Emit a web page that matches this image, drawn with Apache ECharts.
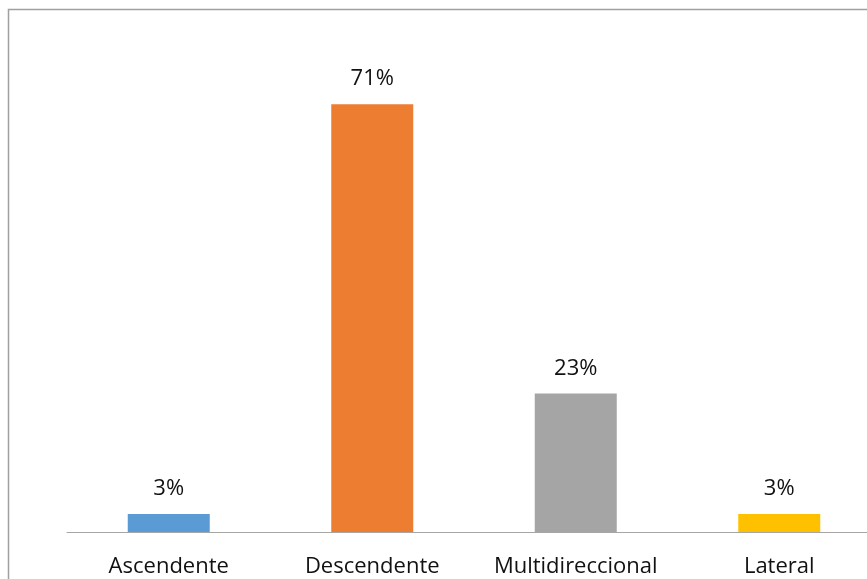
<!DOCTYPE html>
<html>
<head>
<meta charset="utf-8">
<script src="https://cdn.jsdelivr.net/npm/echarts@6/dist/echarts.min.js"></script>
<style>
  html, body { margin: 0; padding: 0; background: #fff; overflow: hidden; }
  /* the plot runs on past the right edge of the window */
  #chart { width: 882px; height: 579px; }
</style>
</head>
<body>
<div id="chart"></div>
<script>
// Direction of movement: share of cases per category
const categories = ['Ascendente', 'Descendente', 'Multidireccional', 'Lateral'];
const shares = [0.03, 0.71, 0.23, 0.03];
const barColors = ['#5B9BD5', '#ED7D31', '#A5A5A5', '#FFC000'];

const chart = echarts.init(document.getElementById('chart'));
const font = 'Open Sans, Liberation Sans, sans-serif';

chart.setOption({
  animation: false,
  graphic: [{
    type: 'rect',
    shape: { x: 8.5, y: 9.5, width: 900, height: 600 },
    style: { fill: 'none', stroke: '#A0A0A0', lineWidth: 1.5 },
    silent: true
  }],
  grid: { left: 67, top: 50, right: 1, bottom: 47, containLabel: false },
  xAxis: {
    type: 'category',
    data: categories,
    axisLine: { lineStyle: { color: '#A6A6A6', width: 1 } },
    axisTick: { show: false },
    axisLabel: { interval: 0, hideOverlap: false, color: '#111', fontSize: 22, fontFamily: font, margin: 24 }
  },
  yAxis: {
    type: 'value',
    min: 0,
    max: 0.8,
    show: false,
    splitLine: { show: false }
  },
  series: [{
    type: 'bar',
    barWidth: 82,
    data: shares.map((v, i) => ({ value: v, itemStyle: { color: barColors[i] } })),
    label: {
      show: true,
      position: 'top',
      distance: 14,
      color: '#111',
      fontSize: 22,
      fontFamily: font,
      formatter: p => Math.round(p.value * 100) + '%'
    }
  }]
});
</script>
</body>
</html>
